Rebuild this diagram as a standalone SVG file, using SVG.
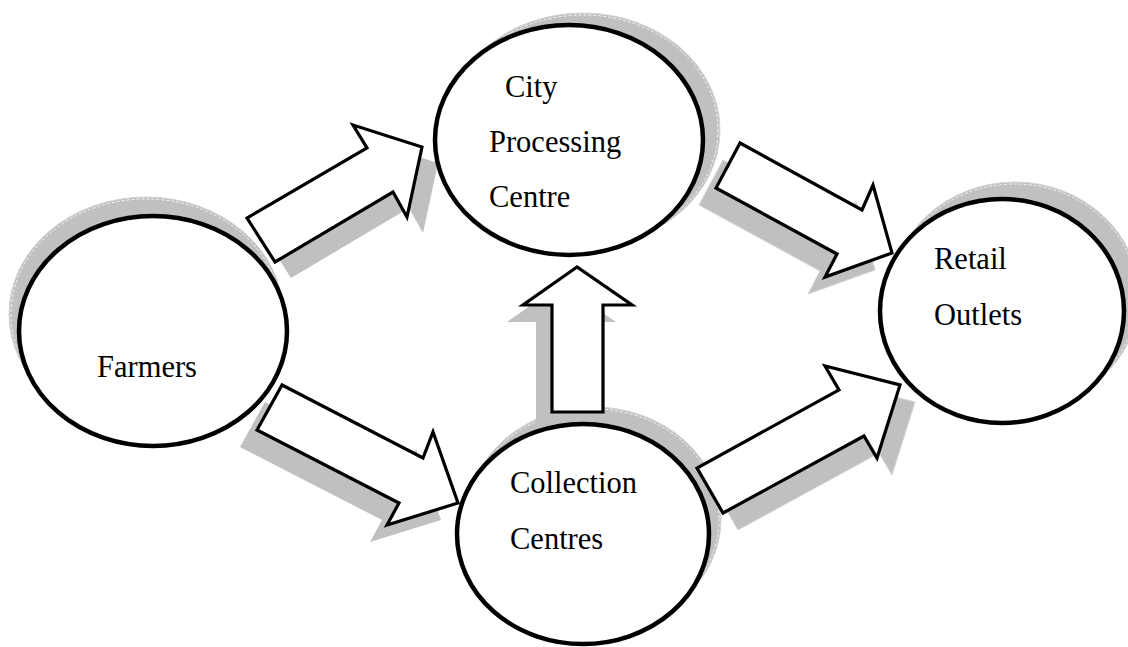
<svg xmlns="http://www.w3.org/2000/svg" width="1128" height="647" viewBox="0 0 1128 647">
<style>
.sh{fill:#c0c0c0;stroke:#d4d4d4;stroke-width:1}
.shd{fill:none;stroke:#ffffff;stroke-width:0.8;stroke-dasharray:3 2}
.node{fill:#ffffff;stroke:#000000;stroke-width:4.5}
.arr{fill:#ffffff;stroke:#000000;stroke-width:3.2;stroke-linejoin:miter}
.ash{fill:#c0c0c0}
text{font-family:"Liberation Serif","Times New Roman",serif;font-size:30.5px;fill:#000}
</style>
<rect width="1128" height="647" fill="#ffffff"/>
<g id="shadows">
<ellipse class="sh" cx="146" cy="314" rx="137" ry="117"/>
<ellipse class="shd" cx="146" cy="314" rx="135" ry="115"/>
<ellipse class="sh" cx="583" cy="130" rx="137" ry="117"/>
<ellipse class="shd" cx="583" cy="130" rx="135" ry="115"/>
<ellipse class="sh" cx="1015" cy="296" rx="124" ry="114"/>
<ellipse class="shd" cx="1015" cy="296" rx="122" ry="112"/>
<ellipse class="sh" cx="594" cy="519" rx="127" ry="112"/>
<ellipse class="shd" cx="594" cy="519" rx="125" ry="110"/>
</g>
<g id="connectors">
<polygon class="ash" transform="translate(16,16)" points="275,262 247,218 367,148 353,125 422,147 407,217 393,192"/>
<polygon class="ash" transform="translate(-17,17)" points="282,385 257,430 399,503 387,525 458,503 433,432 423,458"/>
<polygon class="sh" transform="translate(-17,17)" points="740,143 716,188 837,254 825,277 892,253 873,185 862,210"/>
<polygon class="sh" transform="translate(15,17)" points="723,513 697,468 839,390 825,366 900,385 877,458 864,436"/>
<polygon class="ash" transform="translate(-16,17)" points="577,267 523,305 552,305 552,412 603,412 603,305 632,305"/>
</g>
<g id="farmers">
<ellipse class="node" cx="153" cy="331" rx="134" ry="115"/>
<text x="97" y="377">Farmers</text>
</g>
<g id="city">
<ellipse class="node" cx="569" cy="140" rx="134" ry="115"/>
<text x="505" y="97">City</text>
<text x="489" y="152">Processing</text>
<text x="489" y="207">Centre</text>
</g>
<g id="retail">
<ellipse class="node" cx="1002" cy="311" rx="122" ry="112"/>
<text x="934" y="269">Retail</text>
<text x="934" y="325">Outlets</text>
</g>
<g id="collection">
<ellipse class="node" cx="583" cy="534" rx="126" ry="110"/>
<text x="510" y="493">Collection</text>
<text x="510" y="549">Centres</text>
</g>
<g id="arrows">
<polygon class="arr" points="275,262 247,218 367,148 353,125 422,147 407,217 393,192"/>
<polygon class="arr" points="282,385 257,430 399,503 387,525 458,503 433,432 423,458"/>
<polygon class="arr" points="740,143 716,188 837,254 825,277 892,253 873,185 862,210"/>
<polygon class="arr" points="723,513 697,468 839,390 825,366 900,385 877,458 864,436"/>
<polygon class="arr" points="577,267 523,305 552,305 552,412 603,412 603,305 632,305"/>
</g>
</svg>
